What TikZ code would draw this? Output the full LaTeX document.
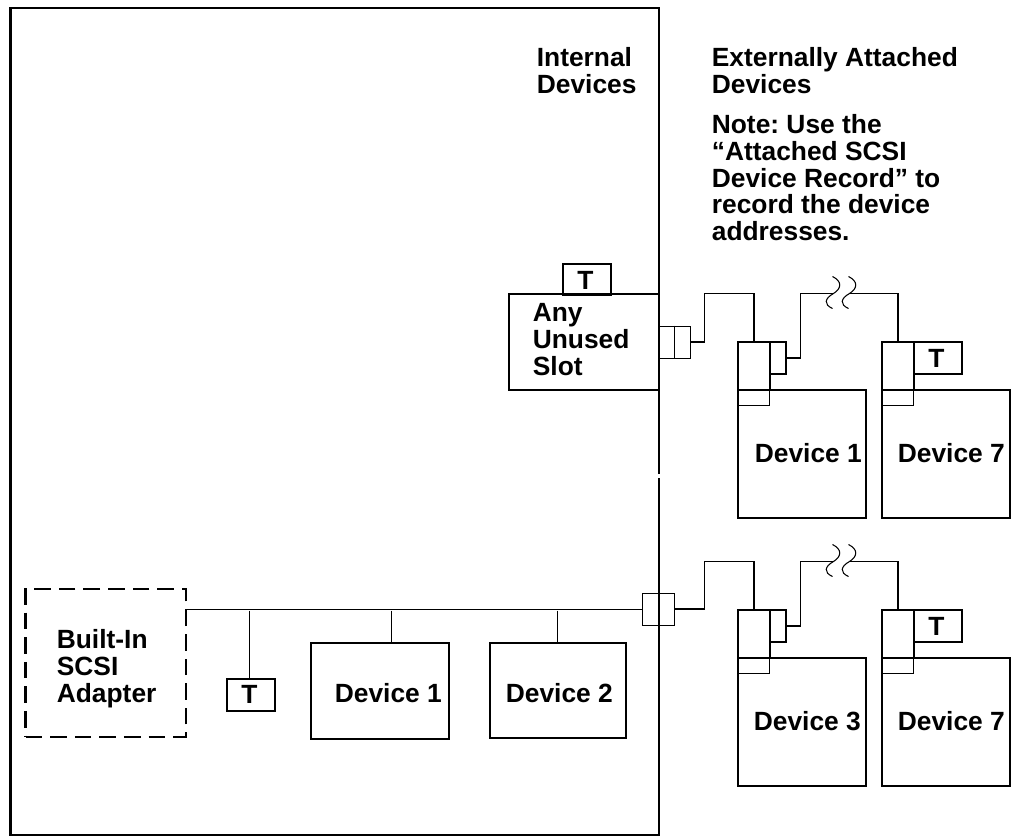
\documentclass[tikz,border=0pt]{standalone}
\usepackage{fontspec}
\setmainfont{Liberation Sans}
\usetikzlibrary{positioning}
\def\px{0.02cm}
\frenchspacing
\tikzset{
  box/.style={draw, anchor=north west, inner sep=0pt, line width=1.25pt},
  thinbox/.style={box, line width=0.8pt},
  wire/.style={line width=1.1pt},
  thinwire/.style={line width=0.8pt},
  lbl/.style={font=\fontsize{15}{15.15}\selectfont\bfseries, align=left, inner sep=0pt, anchor=north west},
  tag/.style={lbl, anchor=base},
  devlbl/.style={lbl, anchor=base west},
}
\begin{document}
\begin{tikzpicture}[x=0.02cm, y=-0.02cm]
  \useasboundingbox (0.5,0.5) rectangle (1018.5,836.5);
  % Outer enclosure
  \node[box, minimum width=648*\px, minimum height=827*\px] (cabinet) at (10,7) {};
  \fill[white] (656,474) rectangle (660,478);
  % Titles
  \node[lbl] (internal) at (537,47.5) {Internal\\Devices};
  \node[lbl] (external) at (712,47.5) {Externally Attached\\Devices};
  \node[lbl] (note) at (712,115)
    {Note: Use the\\“Attached SCSI\\Device Record” to\\record the device\\addresses.};
  % Unused slot
  \node[box, minimum width=150*\px, minimum height=96*\px] (slot) at (508,293) {};
  \node[lbl] (slotlbl) at (533,304) {Any\\Unused\\Slot};
  \node[box, minimum width=48*\px, minimum height=31*\px] (slotT) at (562,263) {};
  \node[tag] (slotTlbl) at (586,290) {T};
  % Internal bus
  \node[box, dash pattern=on 9.5pt off 4.5pt, minimum width=160*\px, minimum height=148*\px] (adapter) at (25,588) {};
  \node[lbl] (adapterlbl) at (57,630) {Built-In\\SCSI\\Adapter};
  \node[box, minimum width=48*\px, minimum height=32*\px] (busT) at (226,678) {};
  \node[tag] (busTlbl) at (250,704) {T};
  \node[box, minimum width=138*\px, minimum height=96*\px] (dev1) at (310,642) {};
  \node[devlbl] (dev1lbl) at (335,703) {Device 1};
  \node[box, minimum width=136*\px, minimum height=95*\px] (dev2) at (489,642) {};
  \node[devlbl] (dev2lbl) at (506,703) {Device 2};
  % Connectors through the wall
  \node[thinbox, minimum width=32*\px, minimum height=32*\px] (portA) at (658,326) {};
  \draw[thinwire] (portA.north) -- (portA.south);
  \node[thinbox, minimum width=32*\px, minimum height=32*\px] (portB) at (642,593) {};
  \draw[thinwire] (adapter.east |- portB.west) -- (portB.west);
  \foreach \x/\d in {250/busT, 392/dev1, 558/dev2}{
    \coordinate (tap\d) at (\x,611);
    \draw[thinwire] (tap\d) -- (tap\d |- \d.north);
  }
  % External devices, one row per port
  \foreach \r/\dy/\a/\la/\port in {A/0/1/755/portA, B/268/3/754/portB}{
    \node[box, minimum width=128*\px, minimum height=128*\px] (big\r) at (737,389+\dy) {};
    \node[devlbl] (biglbl\r) at (\la,463+\dy) {Device \a};
    \node[box, minimum width=128*\px, minimum height=128*\px] (far\r) at (881,389+\dy) {};
    \node[devlbl] (farlbl\r) at (898,463+\dy) {Device 7};
    \node[box, minimum width=32*\px, minimum height=48*\px] (top\r) at (737,341+\dy) {};
    \node[thinbox, minimum width=32*\px, minimum height=16*\px] (low\r) at (737,389+\dy) {};
    \node[box, minimum width=16*\px, minimum height=32*\px] (side\r) at (769,341+\dy) {};
    \node[box, minimum width=32*\px, minimum height=48*\px] (ftop\r) at (881,341+\dy) {};
    \node[thinbox, minimum width=32*\px, minimum height=16*\px] (flow\r) at (881,389+\dy) {};
    \node[box, minimum width=48*\px, minimum height=32*\px] (fT\r) at (913,341+\dy) {};
    \node[tag] (fTlbl\r) at (937,368+\dy) {T};
    \coordinate (up\r) at (705,294+\dy);
    \coordinate (rise\r) at (801,294+\dy);
    \coordinate (cutl\r) at (833,294+\dy);
    \coordinate (cutr\r) at (850,294+\dy);
    \draw[wire] (\port.east) -| (up\r) -| (top\r.north);
    \draw[wire] (side\r.east) -| (rise\r) -- (cutl\r);
    \draw[wire] (cutr\r) -| (ftop\r.north);
    \foreach \s in {0,16}{
      \draw[line width=0.6pt] (833+\s,277+\dy)
        .. controls (843+\s,282+\dy) and (842+\s,289+\dy) .. (834+\s,294+\dy)
        .. controls (825+\s,299+\dy) and (824+\s,305+\dy) .. (833+\s,309+\dy);
    }
  }
\end{tikzpicture}
\end{document}
